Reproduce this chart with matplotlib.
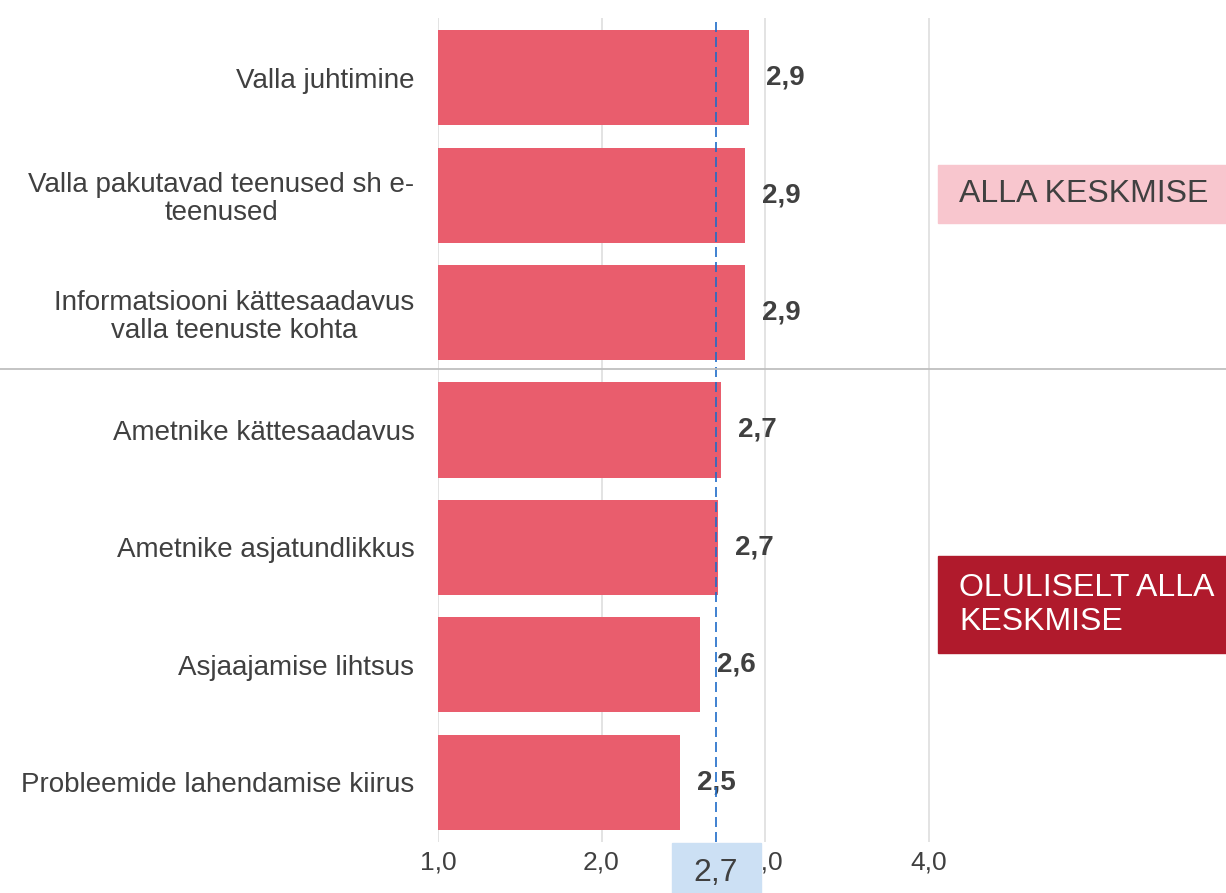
import matplotlib
matplotlib.use('Agg')
import matplotlib.pyplot as plt
from matplotlib.patches import Rectangle
from matplotlib.lines import Line2D

plt.rcParams['font.family'] = ['Liberation Sans', 'DejaVu Sans']

categories = [
    'Valla juhtimine',
    'Valla pakutavad teenused sh e-\nteenused',
    'Informatsiooni kättesaadavus\nvalla teenuste kohta',
    'Ametnike kättesaadavus',
    'Ametnike asjatundlikkus',
    'Asjaajamise lihtsus',
    'Probleemide lahendamise kiirus',
]
values = [2.90, 2.88, 2.88, 2.73, 2.71, 2.60, 2.48]
average = 2.7
xticks = [1, 2, 3, 4]
xtick_labels = ['1,0', '2,0', '3,0', '4,0']
box_labels = ['ALLA KESKMISE', 'OLULISELT ALLA\nKESKMISE']

W, H = 1226, 893
fig = plt.figure(figsize=(W / 100, H / 100), dpi=100)
ax = fig.add_axes([438 / W, 1 - 842 / H, 1 - 438 / W, (842 - 18) / H])

text_col = '#404040'
ypos = list(range(len(categories)))
ax.barh(ypos, [v - 1 for v in values], left=1, height=0.81, color='#E95D6D', zorder=2)

for y, v in zip(ypos, values):
    ax.annotate(f'{v:.1f}'.replace('.', ','), (v, y), xytext=(17, 0),
                textcoords='offset pixels', ha='left', va='center',
                fontsize=20, fontweight='bold', color=text_col)

ax.axvline(average, color='#1f6cc8', lw=1.2, ls=(0, (6, 3)), zorder=3)

ax.set_xlim(1, 1 + (W - 438) / 163.5)
ax.set_ylim(6.51, -0.51)
ax.set_xticks(xticks)
ax.set_xticklabels(xtick_labels, fontsize=19, color=text_col)
ax.set_yticks(ypos)
ax.set_yticklabels(categories, fontsize=20, color=text_col)
for lab in ax.get_yticklabels():
    lab.set_multialignment('center')
    lab.set_linespacing(1.1)
ax.tick_params(axis='both', length=0)
ax.tick_params(axis='y', pad=17)
ax.tick_params(axis='x', pad=6)
ax.grid(axis='x', color='#dedede', lw=1.2, zorder=0)
for s in ax.spines.values():
    s.set_visible(False)

# separator between the two groups
fig.add_artist(Line2D([0, 1], [1 - 369 / H, 1 - 369 / H], transform=fig.transFigure,
                      color='#bfbfbf', lw=1.3))

# group boxes on the right
fig.add_artist(Rectangle((938 / W, 1 - 223 / H), (W - 938) / W, 58 / H,
                         transform=fig.transFigure, color='#F8C6CE', zorder=5))
fig.text(959 / W, 1 - 194 / H, box_labels[0], fontsize=23, color=text_col,
         va='center', ha='left', zorder=6)
fig.add_artist(Rectangle((938 / W, 1 - 653 / H), (W - 938) / W, 97 / H,
                         transform=fig.transFigure, color='#B01A2C', zorder=5))
fig.text(959 / W, 1 - 605 / H, box_labels[1], fontsize=23, color='white',
         va='center', ha='left', linespacing=1.2, zorder=6)

# average marker on the axis
fig.add_artist(Rectangle((672 / W, 0), 89 / W, 50 / H,
                         transform=fig.transFigure, color='#CCE0F4', zorder=5))
fig.text(716 / W, 1 - 873 / H, f'{average:.1f}'.replace('.', ','), fontsize=23,
         color=text_col, ha='center', va='center', zorder=6)

fig.savefig('out.png', dpi=100)
